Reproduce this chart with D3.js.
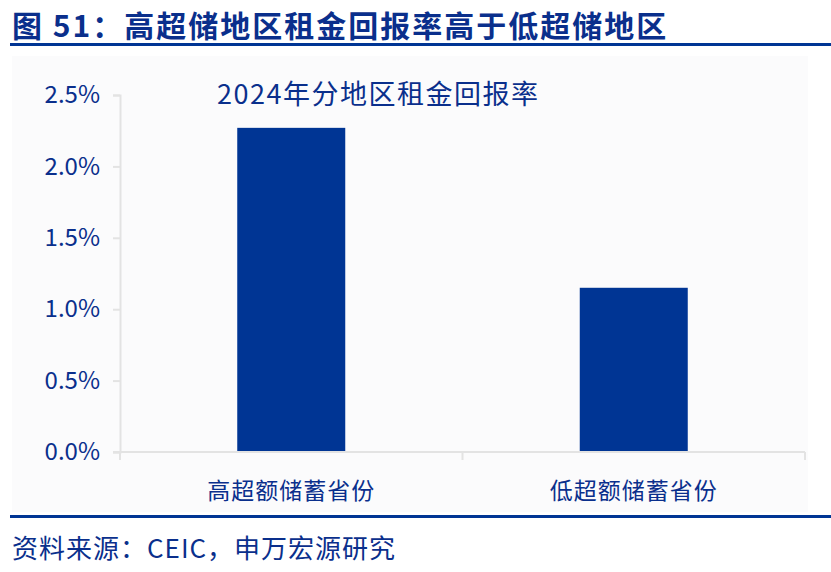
<!DOCTYPE html>
<html>
<head>
<meta charset="utf-8">
<script src="https://cdn.jsdelivr.net/npm/d3@7"></script>
<style>
  body { margin: 0; background: #fff; }
  text { font-family: "Noto Sans CJK SC", "Noto Sans", sans-serif; }
</style>
</head>
<body>
<div id="grafica"></div>
<script>
// datos del grafico
var categorias = ["高超额储蓄省份", "低超额储蓄省份"];
var valores = [2.27, 1.15];
var ticks = [0, 0.5, 1.0, 1.5, 2.0, 2.5];

var titulo = "图 51：高超储地区租金回报率高于低超储地区";
var subtitulo = "2024年分地区租金回报率";
var fuente = "资料来源：CEIC，申万宏源研究";

var azul = "#003594";
var texto = "#0a2f8c";

var svg = d3.select("#grafica")
  .append("svg")
  .attr("width", 831)
  .attr("height", 572);

// titulo y lineas
svg.append("text")
  .attr("x", 12)
  .attr("y", 37)
  .attr("font-size", 30)
  .attr("letter-spacing", 2)
  .attr("font-weight", "bold")
  .attr("fill", texto)
  .text(titulo);
svg.append("rect")
  .attr("x", 10).attr("y", 43)
  .attr("width", 821).attr("height", 3)
  .attr("fill", azul);

// fondo del area del grafico
svg.append("rect")
  .attr("x", 12).attr("y", 56)
  .attr("width", 796).attr("height", 456)
  .attr("fill", "#fbfbfc");

var x = d3.scaleBand()
  .domain(categorias)
  .range([120, 805])
  .paddingInner(0)
  .paddingOuter(0);

var y = d3.scaleLinear()
  .domain([0, 2.5])
  .range([452, 95]);

var barW = 108;

svg.selectAll(".bar")
  .data(valores)
  .enter().append("rect")
  .attr("class", "bar")
  .attr("x", function(d, i) { return x(categorias[i]) + x.bandwidth() / 2 - barW / 2; })
  .attr("y", function(d) { return y(d); })
  .attr("width", barW)
  .attr("height", function(d) { return y(0) - y(d); })
  .attr("fill", azul);

// eje y
var ejeY = svg.append("g")
  .attr("transform", "translate(120,0)")
  .call(d3.axisLeft(y).tickValues(ticks).tickSize(7).tickPadding(13)
    .tickFormat(function(d) { return d.toFixed(1) + "%"; }));
ejeY.select(".domain").attr("stroke", "#e3e3e3").attr("stroke-width", 2);
ejeY.selectAll(".tick line").attr("stroke", "#e3e3e3").attr("stroke-width", 2);
ejeY.selectAll(".tick text")
  .attr("font-size", 24)
  .attr("fill", texto)
  .attr("font-family", "Noto Sans CJK SC, Noto Sans, sans-serif");

// eje x
var ejeX = svg.append("g")
  .attr("transform", "translate(0," + y(0) + ")")
  .call(d3.axisBottom(x).tickSize(0).tickPadding(31));
ejeX.select(".domain").attr("stroke", "#e3e3e3").attr("stroke-width", 2)
  .attr("d", "M113,0H805");
ejeX.selectAll(".tick text")
  .attr("font-size", 23)
  .attr("letter-spacing", 1)
  .attr("fill", texto)
  .attr("font-family", "Noto Sans CJK SC, Noto Sans, sans-serif");

// separadores de categorias
var bordes = [x(categorias[0]), x(categorias[1]), x(categorias[1]) + x.bandwidth()];
svg.selectAll(".sep")
  .data(bordes)
  .enter().append("line")
  .attr("x1", function(d) { return d; })
  .attr("x2", function(d) { return d; })
  .attr("y1", y(0))
  .attr("y2", y(0) + 8)
  .attr("stroke", "#e3e3e3")
  .attr("stroke-width", 2);

// subtitulo
svg.append("text")
  .attr("x", 217)
  .attr("y", 104)
  .attr("font-size", 27)
  .attr("letter-spacing", 1.5)
  .attr("fill", texto)
  .text(subtitulo);

// pie
svg.append("rect")
  .attr("x", 10).attr("y", 515)
  .attr("width", 821).attr("height", 3)
  .attr("fill", azul);
svg.append("text")
  .attr("x", 12)
  .attr("y", 558)
  .attr("font-size", 26)
  .attr("letter-spacing", 1)
  .attr("fill", texto)
  .text(fuente);
</script>
</body>
</html>
